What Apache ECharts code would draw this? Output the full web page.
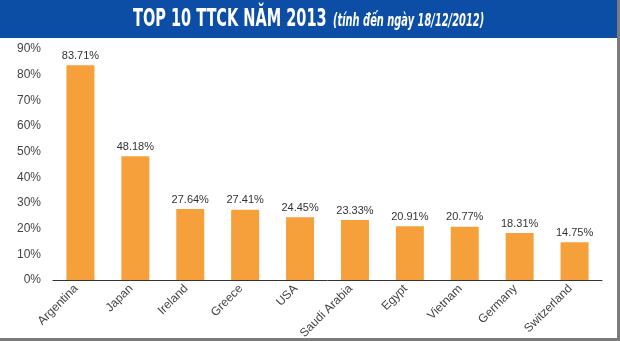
<!DOCTYPE html>
<html>
<head>
<meta charset="utf-8">
<script src="https://cdn.jsdelivr.net/npm/echarts@6/dist/echarts.min.js"></script>
<style>
  html, body { margin: 0; padding: 0; background: #fff; }
  #chart { width: 620px; height: 341px; }
</style>
</head>
<body>
<div id="chart"></div>
<script>
// Top 10 stock markets of 2013 (as of 18/12/2012), yearly gain in percent
const markets = ['Argentina', 'Japan', 'Ireland', 'Greece', 'USA', 'Saudi Arabia', 'Egypt', 'Vietnam', 'Germany', 'Switzerland'];
const gains = [83.71, 48.18, 27.64, 27.41, 24.45, 23.33, 20.91, 20.77, 18.31, 14.75];
const yTicks = { min: 0, max: 90, interval: 10 };

const titleMain = 'TOP 10 TTCK NĂM 2013';
const titleNote = '(tính đến ngày 18/12/2012)';

const chart = echarts.init(document.getElementById('chart'), null, { renderer: 'canvas' });

chart.setOption({
  backgroundColor: '#ffffff',
  animation: false,
  graphic: [
    // header band and frame
    { type: 'rect', shape: { x: 0, y: 0, width: 620, height: 38 }, style: { fill: '#0c4ea6' }, z: 0 },
    { type: 'rect', shape: { x: 617, y: 0, width: 3, height: 341 }, style: { fill: '#7b7b7b' }, z: 0 },
    { type: 'rect', shape: { x: 0, y: 338, width: 620, height: 3 }, style: { fill: '#7b7b7b' }, z: 0 },
    // condensed header text
    {
      type: 'text', x: 133, y: 19.5, scaleX: 0.605, z: 5,
      style: {
        text: titleMain, fill: '#ffffff',
        font: 'bold 24px "DejaVu Sans", sans-serif',
        verticalAlign: 'middle'
      }
    },
    {
      type: 'text', x: 333, y: 21.6, scaleX: 0.58, z: 5,
      style: {
        text: titleNote, fill: '#ffffff',
        font: 'italic bold 17px "DejaVu Sans", sans-serif',
        verticalAlign: 'middle'
      }
    }
  ],
  grid: { left: 53, right: 18, top: 49, bottom: 61, containLabel: false, outerBoundsMode: 'none' },
  xAxis: {
    type: 'category',
    data: markets,
    axisLine: { lineStyle: { color: '#333333', width: 1 } },
    axisTick: { show: false },
    axisLabel: {
      rotate: 45,
      interval: 0,
      margin: 11,
      verticalAlign: 'bottom',
      color: '#444444',
      fontFamily: '"Liberation Sans", Arial, sans-serif',
      fontSize: 12
    }
  },
  yAxis: {
    type: 'value',
    min: yTicks.min,
    max: yTicks.max,
    interval: yTicks.interval,
    splitLine: { show: false },
    axisLine: { show: false },
    axisTick: { show: false },
    axisLabel: {
      formatter: '{value}%',
      margin: 12,
      color: '#444444',
      fontFamily: '"Liberation Sans", Arial, sans-serif',
      fontSize: 12
    }
  },
  series: [{
    type: 'bar',
    data: gains,
    barWidth: '51%',
    itemStyle: { color: '#f5a03a' },
    label: {
      show: true,
      position: 'top',
      distance: 4,
      formatter: (p) => p.value.toFixed(2) + '%',
      color: '#333333',
      fontFamily: '"Liberation Sans", Arial, sans-serif',
      fontSize: 11
    }
  }]
});
</script>
</body>
</html>
